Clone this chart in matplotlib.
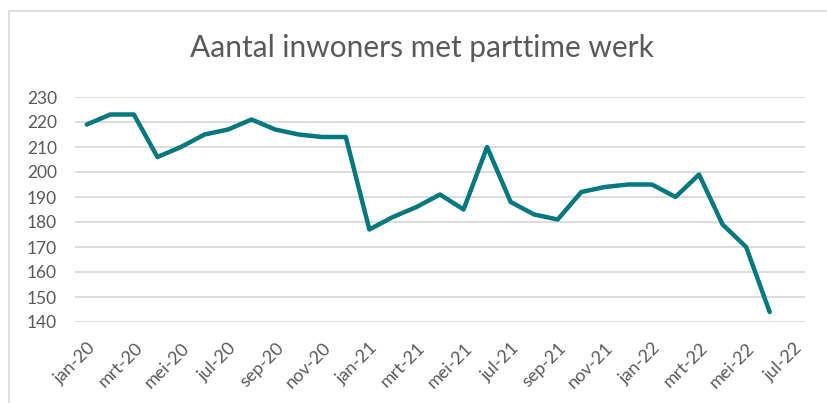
import matplotlib.pyplot as plt
from matplotlib.patches import Rectangle
from matplotlib.transforms import ScaledTranslation

# maanden jan-20 t/m jul-22 (jul-22 heeft nog geen waarde)
months = ['jan', 'feb', 'mrt', 'apr', 'mei', 'jun',
          'jul', 'aug', 'sep', 'okt', 'nov', 'dec']
years = ['20', '21', '22']
labels = [m + '-' + y for y in years for m in months][:31]

values = [219, 223, 223, 206, 210, 215, 217, 221, 217, 215, 214, 214,
          177, 182, 186, 191, 185, 210, 188, 183, 181, 192, 194, 195,
          195, 190, 199, 179, 170, 144]

yticks = list(range(140, 231, 10))

plt.rcParams['font.family'] = ['Lato', 'DejaVu Sans']

fig = plt.figure(figsize=(8.27, 4.03), dpi=100)
fig.patches.append(Rectangle((9 / 827, -0.1), 1.2, 1 - 11 / 403 + 0.1,
                             transform=fig.transFigure, fill=False,
                             edgecolor='#D9D9D9', linewidth=1.2))

ax = fig.add_axes([75 / 827, 1 - 322 / 403, 730 / 827, 225 / 403])
x = list(range(len(values)))
ax.plot(x, values, color='#00787D', linewidth=3.2, solid_joinstyle='round',
        solid_capstyle='round', zorder=3)

ax.set_xlim(-0.5, len(labels) - 0.5)
ax.set_ylim(140, 230)
ax.set_yticks(yticks)
ax.set_yticklabels([str(v) for v in yticks], fontsize=12.5, color='#595959')
ax.set_xticks(range(0, len(labels), 2))
ax.set_xticklabels(labels[::2], rotation=45, ha='right', va='center',
                   rotation_mode='anchor', fontsize=13, color='#595959')
ax.tick_params(axis='y', length=0, pad=13)
ax.tick_params(axis='x', length=0, pad=17)
shift = ScaledTranslation(6 / 100, 0, fig.dpi_scale_trans)
for t in ax.get_xticklabels():
    t.set_transform(t.get_transform() + shift)
ax.grid(axis='y', color='#D9D9D9', linewidth=1.3)
ax.set_axisbelow(True)
for s in ax.spines.values():
    s.set_visible(False)

fig.text(422 / 827, 1 - 48 / 403, 'Aantal inwoners met parttime werk',
         ha='center', va='center', fontsize=21.5, color='#595959')

fig.savefig('out.png', dpi=100)
